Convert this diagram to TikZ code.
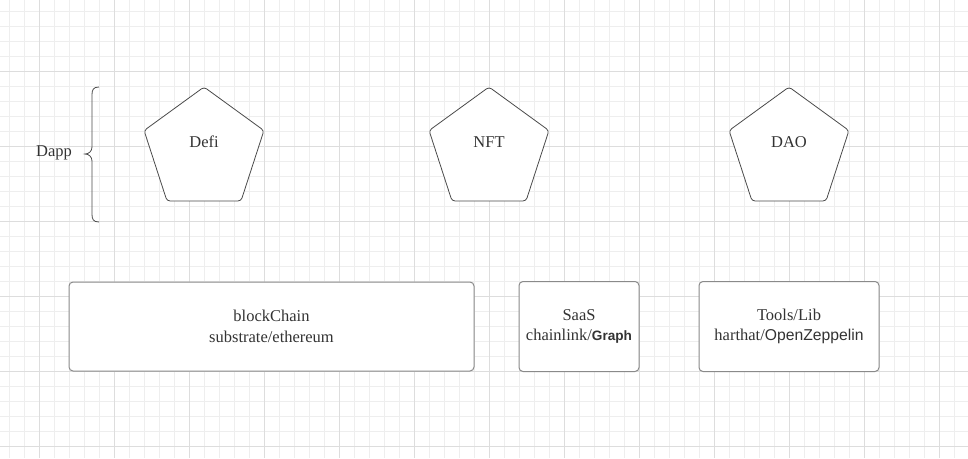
\documentclass[tikz,border=0pt]{standalone}
\usepackage{fontspec}
\setmainfont{Liberation Serif}
\newfontfamily\sansf{Liberation Sans}
\usetikzlibrary{shapes.geometric}
\definecolor{gridminor}{HTML}{EEEEEE}
\definecolor{gridmajor}{HTML}{DDDDDD}
\definecolor{txtc}{HTML}{333333}
\definecolor{edgec}{HTML}{4A4A4A}
\definecolor{boxc}{HTML}{8A8A8A}
\begin{document}
\begin{tikzpicture}[x=1pt,y=-1pt,
  pent/.style={regular polygon, regular polygon sides=5, minimum size=126pt, inner sep=0pt, draw=edgec, fill=white, rounded corners=3pt, line width=0.8pt},
  lbl/.style={text=txtc, font=\fontsize{16.5}{20.5}\selectfont, inner sep=0pt},
  card/.style={draw=boxc, fill=white, rounded corners=4pt, line width=1pt, align=center, text=txtc, inner sep=0pt, font=\fontsize{16.5}{20.5}\selectfont},
  brace/.style={draw=edgec, line width=0.8pt}]
\fill[white] (0,0) rectangle (968,458);
\useasboundingbox (0,0) rectangle (968,458);
\foreach \x in {9,24,...,968} \draw[gridminor, line width=0.8pt] (\x,0) -- (\x,458);
\foreach \y in {11,26,...,458} \draw[gridminor, line width=0.8pt] (0,\y) -- (968,\y);
\foreach \x in {39,114,...,968} \draw[gridmajor, line width=0.9pt] (\x,0) -- (\x,458);
\foreach \y in {71,146,...,458} \draw[gridmajor, line width=0.9pt] (0,\y) -- (968,\y);

% brace
\coordinate (btop) at (99,87);
\coordinate (btip) at (85,154);
\coordinate (bbot) at (99,222);
\draw[brace] (btop) .. controls (93,87) and (92,90) .. (92,95) -- (92,147) .. controls (92,151) and (89,154) .. (btip)
  .. controls (89,154) and (92,157) .. (92,161) -- (92,214) .. controls (92,219) and (93,222) .. (bbot);
\node[lbl] (dapp) at (54,153) {Dapp};

% pentagons
\node[pent] (defi) at (204,150) {};
\node[lbl] (defit) at ([yshift=8pt]defi.center) {Defi};
\node[pent] (nft) at (489,150) {};
\node[lbl] (nftt) at ([yshift=8pt]nft.center) {NFT};
\node[pent] (dao) at (789,150) {};
\node[lbl] (daot) at ([yshift=8pt]dao.center) {DAO};

% boxes
\node[card, minimum width=405pt, minimum height=89pt] (chain) at (271.5,326.5) {blockChain\\substrate/ethereum};
\node[card, minimum width=120pt, minimum height=90pt] (saas) at (579,326.5) {SaaS\\chainlink/{\sansf\bfseries\fontsize{13.6}{20.5}\selectfont Graph}};
\node[card, minimum width=180pt, minimum height=90pt] (tools) at (789,326.5) {Tools/Lib\\harthat/{\sansf\fontsize{15.7}{20.5}\selectfont OpenZeppelin}};
\end{tikzpicture}
\end{document}
